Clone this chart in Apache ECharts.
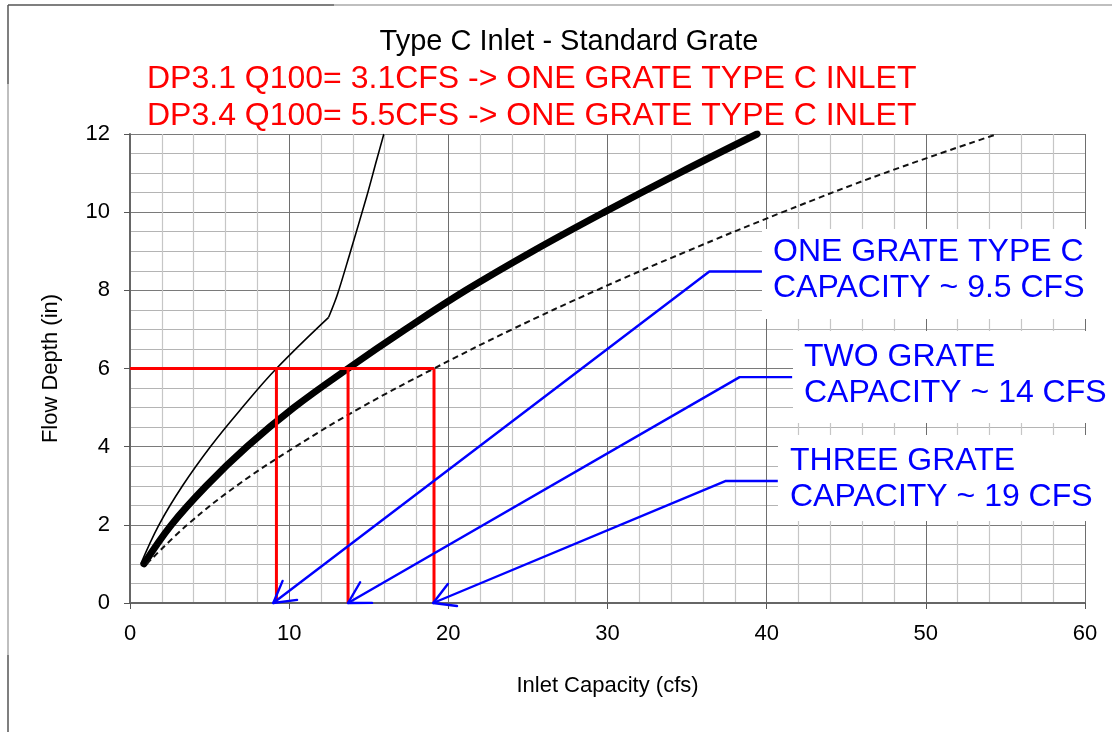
<!DOCTYPE html>
<html>
<head>
<meta charset="utf-8">
<title>Type C Inlet - Standard Grate</title>
<script src="https://cdn.jsdelivr.net/npm/echarts@6/dist/echarts.min.js"></script>
<style>
  html, body { margin: 0; padding: 0; background: #fff; }
  #chart { width: 1112px; height: 732px; }
</style>
</head>
<body>
<div id="chart"></div>
<script>
// Inlet rating curves: flow depth (in) against inlet capacity (cfs)
const depthIn      = [1, 2, 3, 4, 5, 6, 7, 8, 9, 10, 11, 12];
const standardFlow = [0.88, 2.6, 4.8, 7.35, 10.3, 13.7, 17.3, 21.1, 25.3, 29.8, 34.5, 39.4];
const openFlow     = [1.05, 3.6, 6.7, 10.4, 14.5, 19.1, 24.0, 29.3, 35.0, 41.0, 47.4, 54.5];

// single-grate curve: weir branch, then orifice branch above the break
const weirDepth    = [1, 2, 3, 4, 5, 6, 7.31];
const weirFlow     = [0.68, 1.82, 3.3, 5.05, 7.05, 9.2, 12.48];
const orificeDepth = [7.31, 7.88, 8.95, 10.4, 11.34, 12];
const orificeFlow  = [12.48, 13.02, 13.82, 14.87, 15.5, 15.95];

// design depth and the capacities read at that depth (one, two, three grates)
const guideDepth = 6;
const guideFlows = [9.2, 13.7, 19.1];

// callout leaders: label end -> elbow -> arrow tip on the axis
const leaderEndX   = [39.7, 41.6, 40.7];
const leaderElbowX = [36.4, 38.3, 37.4];
const leaderElbowY = [8.48, 5.78, 3.12];
const leaderTipX   = [9.0, 13.7, 19.05];

// tick labels
const xTicks = [0, 10, 20, 30, 40, 50, 60];
const yTicks = [0, 2, 4, 6, 8, 10, 12];

const headerLines = [
  'DP3.1 Q100= 3.1CFS -> ONE GRATE TYPE C INLET',
  'DP3.4 Q100= 5.5CFS -> ONE GRATE TYPE C INLET'
];
const noteLines = [
  ['ONE GRATE TYPE C', 'CAPACITY ~ 9.5 CFS'],
  ['TWO GRATE', 'CAPACITY ~ 14 CFS'],
  ['THREE GRATE', 'CAPACITY ~ 19 CFS']
];

const FONT = '"Liberation Sans", Arial, Helvetica, sans-serif';
const RED = '#ff0000';
const BLUE = '#0000ff';

const zip = (xs, ys) => xs.map((x, i) => [x, ys[i]]);

const chart = echarts.init(document.getElementById('chart'), null, { renderer: 'canvas' });

const curveSeries = [
  {
    name: 'Standard grate', type: 'line', data: zip(standardFlow, depthIn),
    smooth: 0.4, showSymbol: false, z: 4,
    lineStyle: { color: '#000', width: 7, cap: 'round', join: 'round' }
  },
  {
    name: 'Open grate', type: 'line', data: zip(openFlow, depthIn),
    smooth: 0.4, showSymbol: false, z: 4,
    lineStyle: { color: '#111', width: 2, type: [6, 4] }
  },
  {
    name: 'Weir', type: 'line', data: zip(weirFlow, weirDepth),
    smooth: 0.4, showSymbol: false, z: 4,
    lineStyle: { color: '#000', width: 1.6 }
  },
  {
    name: 'Orifice', type: 'line', data: zip(orificeFlow, orificeDepth),
    smooth: 0.3, showSymbol: false, z: 4,
    lineStyle: { color: '#000', width: 1.6 }
  }
];

// red guide: across at the design depth, then down to the capacity axis
const guideSeries = [
  {
    type: 'line', data: [[0, guideDepth], [Math.max(...guideFlows), guideDepth]],
    showSymbol: false, z: 5, lineStyle: { color: RED, width: 3 }
  }
].concat(guideFlows.map(f => ({
  type: 'line', data: [[f, guideDepth], [f, 0]],
  showSymbol: false, z: 5, lineStyle: { color: RED, width: 3 }
})));

const leaderSeries = leaderTipX.map((tx, i) => ({
  type: 'line',
  data: [[leaderEndX[i], leaderElbowY[i]], [leaderElbowX[i], leaderElbowY[i]], [tx, 0]],
  showSymbol: false, z: 6, clip: false,
  lineStyle: { color: BLUE, width: 2.4 }
}));

// open V arrowheads, oriented along each leader's last segment
const arrowSeries = {
  type: 'custom', z: 6, clip: false,
  encode: { x: [0, 2], y: [1, 3] },
  data: leaderTipX.map((tx, i) => [tx, 0, leaderElbowX[i], leaderElbowY[i]]),
  renderItem: function (params, api) {
    const tip = api.coord([api.value(0), api.value(1)]);
    const from = api.coord([api.value(2), api.value(3)]);
    const a = Math.atan2(from[1] - tip[1], from[0] - tip[0]);
    const len = 24, spread = 0.52;
    const wing = s => ({
      type: 'line',
      shape: { x1: tip[0], y1: tip[1], x2: tip[0] + len * Math.cos(a + s), y2: tip[1] + len * Math.sin(a + s) },
      style: { stroke: BLUE, lineWidth: 2.4, lineCap: 'round' }
    });
    return { type: 'group', children: [wing(spread), wing(-spread)] };
  }
};

const boxes = [
  { x: 762, y: 229, w: 333, h: 90 },
  { x: 793, y: 331, w: 319, h: 92 },
  { x: 778, y: 435, w: 322, h: 86 }
];
const noteTextPos = [
  { x: 773, y: [252, 288] },
  { x: 804, y: [357, 393.5] },
  { x: 790, y: [461, 497.5] }
];

const graphics = [];
// outer frame
graphics.push({ type: 'line', shape: { x1: 8, y1: 5, x2: 334, y2: 5 }, style: { stroke: '#555', lineWidth: 1.5 }, z: 20 });
graphics.push({ type: 'line', shape: { x1: 334, y1: 5, x2: 1112, y2: 5 }, style: { stroke: '#aaa', lineWidth: 1.5 }, z: 20 });
graphics.push({ type: 'line', shape: { x1: 8, y1: 5, x2: 8, y2: 84 }, style: { stroke: '#555', lineWidth: 1.5 }, z: 20 });
graphics.push({ type: 'line', shape: { x1: 8, y1: 84, x2: 8, y2: 655 }, style: { stroke: '#aaa', lineWidth: 1.5 }, z: 20 });
graphics.push({ type: 'line', shape: { x1: 8, y1: 655, x2: 8, y2: 732 }, style: { stroke: '#555', lineWidth: 1.5 }, z: 20 });

// title and header notes
graphics.push({
  type: 'text', x: 569, y: 41.5, z: 20,
  style: { text: 'Type C Inlet - Standard Grate', font: '29px ' + FONT, fill: '#000', align: 'center', verticalAlign: 'middle' }
});
headerLines.forEach((t, i) => graphics.push({
  type: 'text', x: 147, y: [79.5, 116.5][i], z: 20,
  style: { text: t, font: '32px ' + FONT, fill: RED, align: 'left', verticalAlign: 'middle' }
}));

// capacity callouts on white panels
boxes.forEach(b => graphics.push({
  type: 'rect', shape: { x: b.x, y: b.y, width: b.w, height: b.h }, z: 15,
  style: { fill: '#fff' }
}));
noteLines.forEach((lines, i) => lines.forEach((t, j) => graphics.push({
  type: 'text', x: noteTextPos[i].x, y: noteTextPos[i].y[j], z: 20,
  style: { text: t, font: '32px ' + FONT, fill: BLUE, align: 'left', verticalAlign: 'middle' }
})));

const option = {
  animation: false,
  backgroundColor: '#fff',
  grid: { left: 130, right: 27, top: 134, bottom: 129, containLabel: false },
  xAxis: {
    type: 'value', min: xTicks[0], max: xTicks[xTicks.length - 1], interval: 10,
    name: 'Inlet Capacity (cfs)', nameLocation: 'middle', nameGap: 72,
    nameTextStyle: { fontFamily: FONT, fontSize: 22, color: '#000' },
    axisLine: { show: true, onZero: false, lineStyle: { color: '#666', width: 2 } },
    axisTick: { show: true, inside: false, length: 6, lineStyle: { color: '#555' } },
    axisLabel: { fontFamily: FONT, fontSize: 22, color: '#000', margin: 20 },
    splitLine: { show: true, lineStyle: { color: '#6e6e6e', width: 1 } },
    minorTick: { show: false, splitNumber: 5 },
    minorSplitLine: { show: true, lineStyle: { color: '#c6c6c6', width: 1.2 } }
  },
  yAxis: {
    type: 'value', min: yTicks[0], max: yTicks[yTicks.length - 1], interval: 2,
    name: 'Flow Depth (in)', nameLocation: 'middle', nameGap: 68,
    nameTextStyle: { fontFamily: FONT, fontSize: 22, color: '#000' },
    axisLine: { show: true, onZero: false, lineStyle: { color: '#666', width: 2 } },
    axisTick: { show: true, inside: false, length: 6, lineStyle: { color: '#555' } },
    axisLabel: { fontFamily: FONT, fontSize: 22, color: '#000', margin: 20 },
    splitLine: { show: true, lineStyle: { color: '#7a7a7a', width: 1 } },
    minorTick: { show: false, splitNumber: 4 },
    minorSplitLine: { show: true, lineStyle: { color: '#b4b4b4', width: 1.2 } }
  },
  series: curveSeries.concat(guideSeries, leaderSeries, [arrowSeries]),
  graphic: { elements: graphics }
};

chart.setOption(option);
</script>
</body>
</html>
